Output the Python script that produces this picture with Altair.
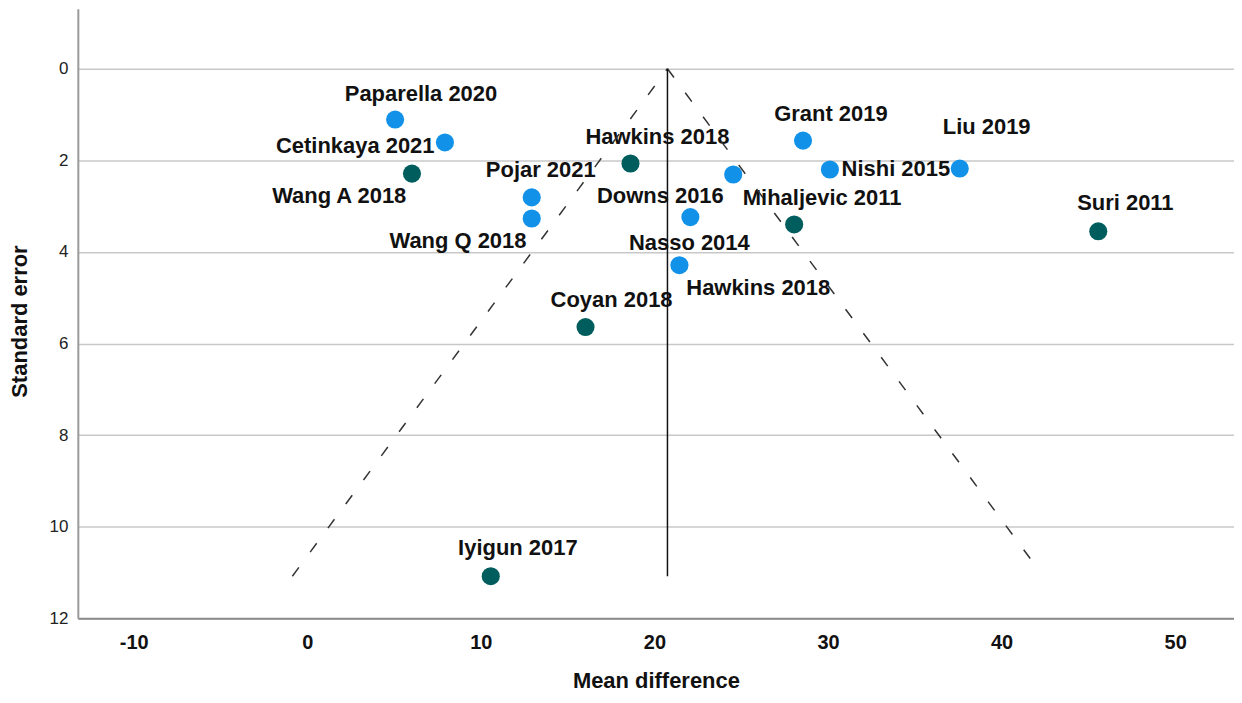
import altair as alt
import pandas as pd

# ---- data ----
studies = ["Paparella 2020", "Cetinkaya 2021", "Wang A 2018", "Pojar 2021", "Wang Q 2018",
           "Hawkins 2018", "Downs 2016", "Nasso 2014", "Hawkins 2018", "Coyan 2018",
           "Iyigun 2017", "Grant 2019", "Nishi 2015", "Liu 2019", "Mihaljevic 2011", "Suri 2011"]
mean_diff = [5.06, 7.93, 6.03, 12.93, 12.93, 18.62, 24.54, 22.07, 21.44, 16.03,
             10.57, 28.56, 30.11, 37.59, 28.05, 45.57]
std_err = [1.11, 1.61, 2.29, 2.81, 3.27, 2.07, 2.31, 3.24, 4.29, 5.64,
           11.08, 1.57, 2.20, 2.18, 3.40, 3.55]
subgroup = ["Subgroup 1", "Subgroup 1", "Subgroup 2", "Subgroup 1", "Subgroup 1",
            "Subgroup 2", "Subgroup 1", "Subgroup 1", "Subgroup 1", "Subgroup 2",
            "Subgroup 2", "Subgroup 1", "Subgroup 1", "Subgroup 1", "Subgroup 2", "Subgroup 2"]
label_md = [6.55, 2.76, 1.84, 13.45, 8.68, 20.17, 20.34, 22.01, 25.98, 17.53,
            12.13, 30.17, 33.91, 39.14, 29.66, 47.13]
label_se = [0.56, 1.68, 2.78, 2.22, 3.77, 1.50, 2.77, 3.81, 4.79, 5.05,
            10.47, 0.98, 2.18, 1.28, 2.83, 2.94]

pooled_md = 20.75
funnel_bottom_se = 11.08
funnel_side = ["left", "left", "right", "right"]
funnel_md = [20.75, -0.86, 20.75, 41.72]
funnel_se = [0.0, 11.08, 0.0, 10.73]

x_ticks = [-10, 0, 10, 20, 30, 40, 50]
y_ticks = [0, 2, 4, 6, 8, 10, 12]
x_domain = [-13.22, 53.39]
y_domain = [-1.307, 12]

group_names = ["Subgroup 1", "Subgroup 2"]
group_colors = ["#1192e8", "#005d5d"]

# ---- tables ----
pts = pd.DataFrame({"id": list(range(len(studies))), "study": studies, "md": mean_diff,
                    "se": std_err, "group": subgroup, "lmd": label_md, "lse": label_se})
funnel = pd.DataFrame({"side": funnel_side, "md": funnel_md, "se": funnel_se})
center = pd.DataFrame({"md": [pooled_md], "se": [0.0], "se2": [funnel_bottom_se]})

FONT = "Liberation Sans"

xs = alt.Scale(domain=x_domain, nice=False, zero=False)
ys = alt.Scale(domain=y_domain, reverse=True, nice=False, zero=False)

x_axis = alt.Axis(values=x_ticks, grid=False, ticks=False, labelFont=FONT, labelFontSize=20,
                  labelFontWeight="bold", labelColor="#111", labelPadding=14,
                  labelExpr="datum.value + ''",
                  domainColor="#8c8c8c", domainWidth=2, title="Mean difference",
                  titleFont=FONT, titleFontSize=22, titleFontWeight="bold", titleColor="#111",
                  titleY=74, titleBaseline="bottom")
y_axis = alt.Axis(values=y_ticks, grid=True, gridColor="#c8c8c8", gridWidth=1.6, ticks=False,
                  labelFont=FONT, labelFontSize=17, labelColor="#222", labelPadding=10,
                  domainColor="#9a9a9a", domainWidth=2, title="Standard error",
                  titleFont=FONT, titleFontSize=22, titleFontWeight="bold", titleColor="#111",
                  titleX=-58, titleY=313, titleAngle=270, titleBaseline="middle", titleAlign="center")

points = alt.Chart(pts).mark_circle(size=330, opacity=1).encode(
    x=alt.X("md:Q", scale=xs, axis=x_axis),
    y=alt.Y("se:Q", scale=ys, axis=y_axis),
    color=alt.Color("group:N", scale=alt.Scale(domain=group_names, range=group_colors), legend=None),
    detail="id:N",
)

labels = alt.Chart(pts).mark_text(font=FONT, fontSize=22, fontWeight="bold", color="#111",
                                  align="center", baseline="middle").encode(
    x=alt.X("lmd:Q", scale=xs),
    y=alt.Y("lse:Q", scale=ys),
    text="study:N",
    detail="id:N",
)

dashed = alt.Chart(funnel).mark_line(color="#333", strokeWidth=1.5, strokeDash=[11, 19]).encode(
    x=alt.X("md:Q", scale=xs),
    y=alt.Y("se:Q", scale=ys),
    detail="side:N",
)

vline = alt.Chart(center).mark_rule(color="#111", strokeWidth=1.5).encode(
    x=alt.X("md:Q", scale=xs),
    y=alt.Y("se:Q", scale=ys),
    y2="se2:Q",
)

chart = alt.layer(points, labels, dashed, vline).properties(
    width=1159, height=611,
    padding={"left": 70, "top": 0, "right": 0, "bottom": 76},
    autosize=alt.AutoSizeParams(type="none"),
).configure_view(stroke=None)

chart.save("out.html", embed_options={"renderer": "svg", "actions": False})
